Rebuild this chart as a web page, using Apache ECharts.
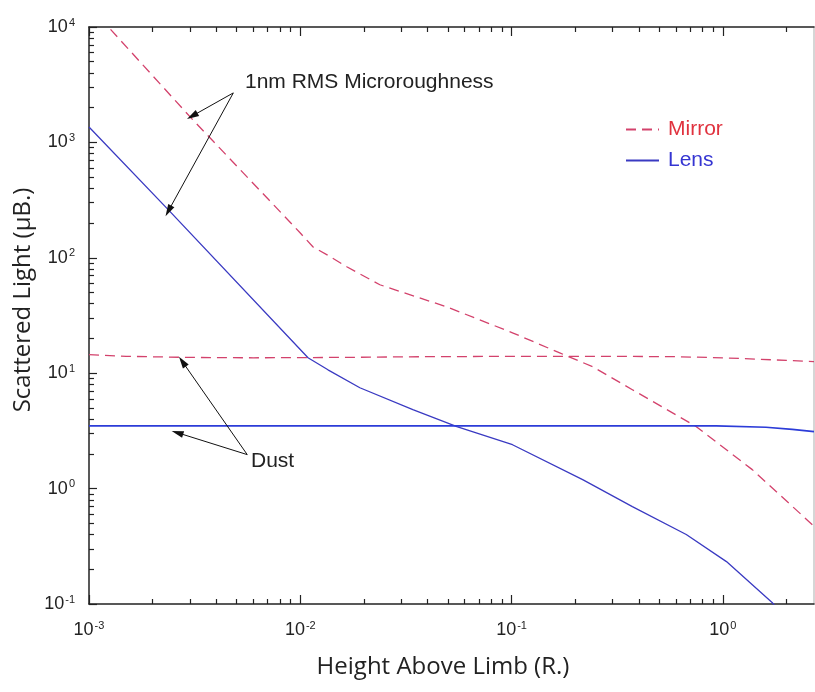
<!DOCTYPE html>
<html>
<head>
<meta charset="utf-8">
<script src="https://cdn.jsdelivr.net/npm/echarts@6/dist/echarts.min.js"></script>
<style>
  html, body { margin: 0; padding: 0; background: #fff; }
  #chart { width: 815px; height: 692px; }
</style>
</head>
<body>
<div id="chart"></div>
<script>
// axis ranges and tick values
var xMin = 0.001, xMax = 2.7;
var yMin = 0.1, yMax = 10000;
var xMajor = [0.001, 0.01, 0.1, 1];
var yMajor = [0.1, 1, 10, 100, 1000, 10000];
var xMinor = [0.002, 0.003, 0.004, 0.005, 0.006, 0.007, 0.008, 0.009,
              0.02, 0.03, 0.04, 0.05, 0.06, 0.07, 0.08, 0.09,
              0.2, 0.3, 0.4, 0.5, 0.6, 0.7, 0.8, 0.9, 2];
var yMinor = [0.2, 0.3, 0.4, 0.5, 0.6, 0.7, 0.8, 0.9,
              2, 3, 4, 5, 6, 7, 8, 9,
              20, 30, 40, 50, 60, 70, 80, 90,
              200, 300, 400, 500, 600, 700, 800, 900,
              2000, 3000, 4000, 5000, 6000, 7000, 8000, 9000];

// 1nm RMS microroughness, mirror (dashed)
var mirrorRoughX = [0.001, 0.00301, 0.0083, 0.01, 0.0115, 0.0134, 0.0166, 0.0238, 0.0493, 0.101, 0.169, 0.2415, 0.373, 0.749, 1.378, 2.71];
var mirrorRoughY = [15300, 1663, 235, 164, 124, 106, 83.6, 58.4, 37.6, 22.4, 15.0, 11.4, 7.19, 3.44, 1.46, 0.469];
// 1nm RMS microroughness, lens (solid)
var lensRoughX = [0.001, 0.002376, 0.01088, 0.01352, 0.01914, 0.0341, 0.0551, 0.101, 0.217, 0.373, 0.671, 1.04, 1.71, 2.1];
var lensRoughY = [1361, 260, 13.6, 10.7, 7.48, 4.83, 3.44, 2.40, 1.197, 0.698, 0.400, 0.233, 0.103, 0.066];
// dust, mirror
var mirrorDustX = [0.001, 0.0015, 0.003, 0.006, 0.015, 0.04, 0.1, 0.3, 0.6, 1.0, 1.5, 2.0, 2.7];
var mirrorDustY = [14.5, 14.0, 13.7, 13.6, 13.7, 13.9, 14.0, 14.0, 13.9, 13.6, 13.2, 12.9, 12.6];
// dust, lens
var lensDustX = [0.001, 0.93, 1.6, 2.13, 2.7];
var lensDustY = [3.5, 3.5, 3.40, 3.26, 3.12];

function zip(xs, ys) {
    var out = [];
    for (var i = 0; i < xs.length; i++) out.push([xs[i], ys[i]]);
    return out;
}

var mirrorColor = '#d3426c';
var lensColor = '#3a3ac2';
var ink = '#222';

function powLabel(v) {
    var e = Math.round(Math.log(v) / Math.LN10);
    return '{b|10}{s|' + e + '}';
}
var labelRich = {
    b: { fontSize: 18, fontFamily: 'Liberation Sans', color: ink, lineHeight: 20 },
    s: { fontSize: 11, fontFamily: 'Liberation Sans', color: ink, verticalAlign: 'top', lineHeight: 12, padding: [0, 0, 0, 1] }
};

function xAxisDef(pos, vals, len, showLine, showLabel) {
    return {
        type: 'log', logBase: 10, gridIndex: 0, position: pos, min: xMin, max: xMax,
        axisLine: { show: showLine, onZero: false, lineStyle: { color: ink, width: 1.5 } },
        axisTick: { show: true, inside: true, length: len, customValues: vals, lineStyle: { color: ink, width: 1.2 } },
        axisLabel: { show: showLabel, customValues: vals, margin: 16, formatter: powLabel, rich: labelRich },
        splitLine: { show: false }, minorTick: { show: false }
    };
}
function yAxisDef(pos, vals, len, showLine, showLabel, lineColor) {
    return {
        type: 'log', logBase: 10, gridIndex: 0, position: pos, min: yMin, max: yMax,
        axisLine: { show: showLine, onZero: false, lineStyle: { color: lineColor || ink, width: 1.5 } },
        axisTick: { show: len > 0, inside: true, length: len, customValues: vals, lineStyle: { color: ink, width: 1.2 } },
        axisLabel: { show: showLabel, customValues: vals, margin: 14, formatter: powLabel, rich: labelRich },
        splitLine: { show: false }, minorTick: { show: false }
    };
}

var chart = echarts.init(document.getElementById('chart'), null, { renderer: 'canvas' });

var arrowLine = { color: '#111', width: 1, type: 'solid' };

var option = {
    animation: false,
    backgroundColor: '#fff',
    grid: { left: 89, right: 1, top: 27, bottom: 88 },
    legend: {
        orient: 'vertical', left: 620, top: 114,
        itemWidth: 33, itemHeight: 14, itemGap: 10,
        itemStyle: { opacity: 0 },
        textStyle: { fontSize: 21, fontFamily: 'Liberation Sans', padding: [0, 0, 0, 4] },
        data: [
            { name: 'Mirror', textStyle: { color: '#e0323e' } },
            { name: 'Lens', textStyle: { color: '#3535d2' } }
        ]
    },
    xAxis: [
        xAxisDef('bottom', xMajor, 9, true, true),
        xAxisDef('bottom', xMinor, 5, false, false),
        xAxisDef('top', xMajor, 9, true, false),
        xAxisDef('top', xMinor, 5, false, false)
    ],
    yAxis: [
        yAxisDef('left', yMajor, 8, true, true),
        yAxisDef('left', yMinor, 5, false, false),
        yAxisDef('right', yMajor, 0, true, false, '#c8c8c8')
    ],
    series: [
        {
            name: 'Mirror', type: 'line', showSymbol: false, symbol: 'none', clip: true,
            data: zip(mirrorRoughX, mirrorRoughY),
            lineStyle: { color: mirrorColor, width: 1.3, type: [10, 6] },
            itemStyle: { color: mirrorColor },
            markLine: {
                silent: true, symbol: ['none', 'triangle'], symbolSize: [7, 12],
                label: { show: false }, lineStyle: arrowLine,
                data: [
                    [{ coord: [0.00482, 2685] }, { coord: [0.00308, 1694] }],
                    [{ coord: [0.00482, 2685] }, { coord: [0.002376, 255] }],
                    [{ coord: [0.00561, 1.97] }, { coord: [0.002767, 12.6] }],
                    [{ coord: [0.00561, 1.97] }, { coord: [0.00262, 3.05] }]
                ]
            }
        },
        {
            name: 'Lens', type: 'line', showSymbol: false, symbol: 'none', clip: true,
            data: zip(lensRoughX, lensRoughY),
            lineStyle: { color: lensColor, width: 1.3 },
            itemStyle: { color: lensColor }
        },
        {
            name: 'Mirror', type: 'line', showSymbol: false, symbol: 'none', clip: true,
            data: zip(mirrorDustX, mirrorDustY),
            lineStyle: { color: mirrorColor, width: 1.3, type: [10, 6] },
            itemStyle: { color: mirrorColor }
        },
        {
            name: 'Lens', type: 'line', showSymbol: false, symbol: 'none', clip: true,
            data: zip(lensDustX, lensDustY),
            lineStyle: { color: '#2c3cd8', width: 1.7 },
            itemStyle: { color: lensColor }
        }
    ],
    graphic: [
        { type: 'text', left: 245, top: 72, style: { text: '1nm RMS Microroughness', font: '21px "Liberation Sans"', fill: ink } },
        { type: 'text', left: 251, top: 451, style: { text: 'Dust', font: '21px "Liberation Sans"', fill: ink } },
        { type: 'text', x: 443, y: 667, style: { text: 'Height Above Limb (R.)', font: '24px "Open Sans"', fill: ink, align: 'center', verticalAlign: 'middle' } },
        { type: 'text', x: 23, y: 300, rotation: Math.PI / 2, style: { text: 'Scattered Light (µB.)', font: '24px "Open Sans"', fill: ink, align: 'center', verticalAlign: 'middle' } }
    ]
};
chart.setOption(option);
</script>
</body>
</html>
